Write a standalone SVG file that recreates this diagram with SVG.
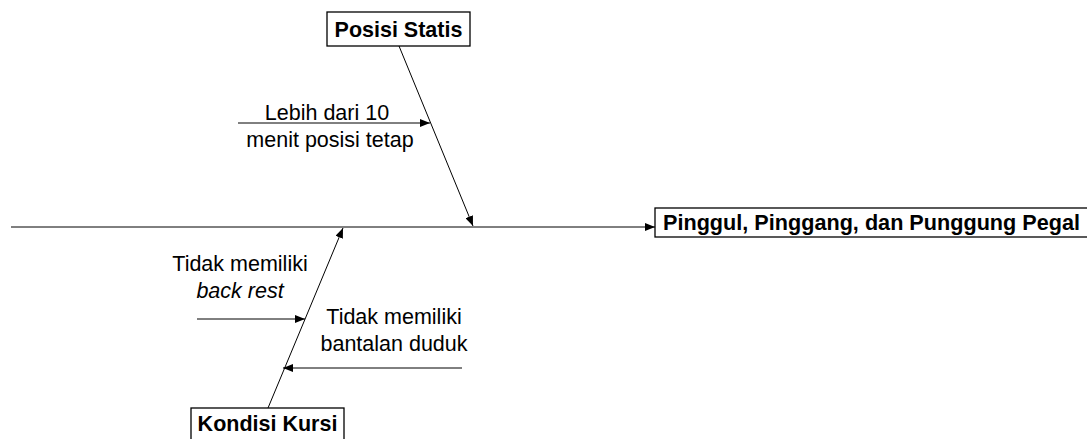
<svg xmlns="http://www.w3.org/2000/svg" width="1087" height="439" viewBox="0 0 1087 439">
<style>
.ln{stroke:#000;stroke-width:1;fill:none}
.box{fill:#fff;stroke:#000;stroke-width:1.3}
.t{font-family:"Liberation Sans",Arial,sans-serif;font-size:21.5px;fill:#000}
.b{font-weight:bold}
</style>
<defs>
<marker id="ah" viewBox="0 0 10 8" refX="10" refY="4" markerWidth="10" markerHeight="8" markerUnits="userSpaceOnUse" orient="auto">
<path d="M0,0 L10,4 L0,8 Z" fill="#000"/>
</marker>
</defs>
<g id="connectors">
<line class="ln" x1="11" y1="227" x2="655" y2="227" marker-end="url(#ah)"/>
<line class="ln" x1="399" y1="46" x2="473" y2="226" marker-end="url(#ah)"/>
<line class="ln" x1="268" y1="408" x2="343" y2="228" marker-end="url(#ah)"/>
<line class="ln" x1="238" y1="123" x2="430" y2="123" marker-end="url(#ah)"/>
<line class="ln" x1="197" y1="319" x2="305" y2="319" marker-end="url(#ah)"/>
<line class="ln" x1="462" y1="368" x2="283" y2="368" marker-end="url(#ah)"/>
</g>
<g id="posisi-statis">
<rect class="box" x="327" y="12" width="143" height="34"/>
<text class="t b" x="398.5" y="36.5" text-anchor="middle">Posisi Statis</text>
</g>
<g id="pegal">
<rect class="box" x="655" y="208" width="440" height="29"/>
<text class="t b" x="663" y="230" textLength="417" lengthAdjust="spacingAndGlyphs">Pinggul, Pinggang, dan Punggung Pegal</text>
</g>
<g id="kondisi-kursi">
<rect class="box" x="191" y="408" width="153" height="40"/>
<text class="t b" x="267.5" y="431" text-anchor="middle">Kondisi Kursi</text>
</g>
<g id="label-lebih">
<text class="t" x="327" y="119.5" text-anchor="middle">Lebih dari 10</text>
<text class="t" x="330" y="146.5" text-anchor="middle">menit posisi tetap</text>
</g>
<g id="label-backrest">
<text class="t" x="240" y="270.5" text-anchor="middle">Tidak memiliki</text>
<text class="t" x="240" y="297.5" text-anchor="middle" font-style="italic">back rest</text>
</g>
<g id="label-bantalan">
<text class="t" x="394" y="323.5" text-anchor="middle">Tidak memiliki</text>
<text class="t" x="394" y="350.5" text-anchor="middle">bantalan duduk</text>
</g>
</svg>
